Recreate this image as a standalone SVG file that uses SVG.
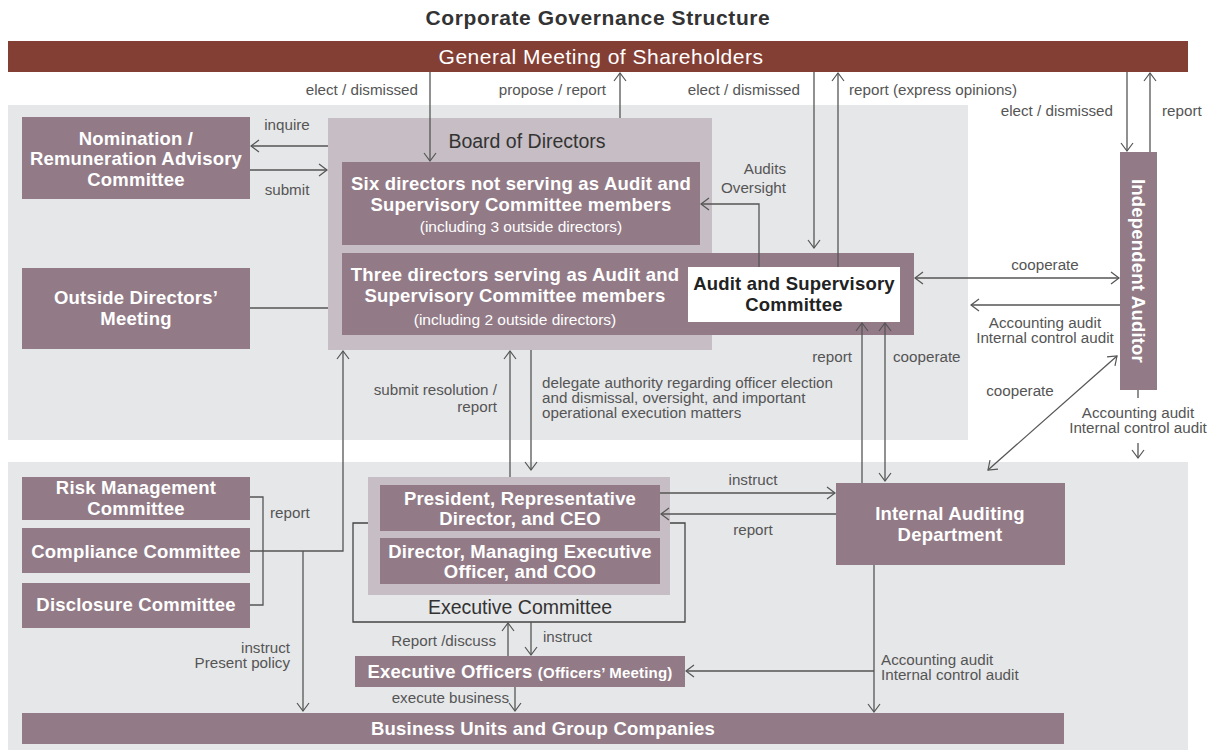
<svg xmlns="http://www.w3.org/2000/svg" width="1213" height="753" viewBox="0 0 1213 753">
<defs>
<marker id="ah" markerUnits="userSpaceOnUse" markerWidth="12" markerHeight="14" viewBox="0 0 12 14" refX="10" refY="7" orient="auto-start-reverse">
<path d="M2,1 L10,7 L2,13" fill="none" stroke="#555" stroke-width="1.2"/>
</marker>
</defs>
<style>
text{font-family:"Liberation Sans",Arial,sans-serif}
.box{fill:#927B87}
.lt{fill:#C6BEC4}
.panel{fill:#E6E7E9}
.bt{fill:#fff;font-size:18.5px;font-weight:bold;letter-spacing:0.2px;text-anchor:middle}
.sm{fill:#fff;font-size:15.5px;text-anchor:middle}
.lb{fill:#555;font-size:15.2px}
.r{text-anchor:end}
.m{text-anchor:middle}
.ln{fill:none;stroke:#555;stroke-width:1.3}
.a{marker-end:url(#ah)}
.d{marker-start:url(#ah);marker-end:url(#ah)}
</style>
<rect width="1213" height="753" fill="#fff"/>
<text x="598" y="25" font-size="21" fill="#333" text-anchor="middle" font-weight="bold" letter-spacing="0.6">Corporate Governance Structure</text>
<g id="panels">
<rect class="panel" x="8" y="105" width="960" height="335"/>
<rect class="panel" x="8" y="462" width="1180" height="288"/>
</g>
<g id="shareholders">
<rect x="8" y="41" width="1180" height="31" fill="#843F35"/>
<text x="601" y="64" font-size="21" fill="#fff" text-anchor="middle" letter-spacing="0.5">General Meeting of Shareholders</text>
</g>
<g id="nomination">
<rect class="box" x="22" y="117" width="228" height="82"/>
<text class="bt" x="136" y="145">Nomination /</text>
<text class="bt" x="136" y="165">Remuneration Advisory</text>
<text class="bt" x="136" y="186">Committee</text>
</g>
<g id="outside">
<rect class="box" x="22" y="268" width="228" height="81"/>
<text class="bt" x="136" y="304">Outside Directors’</text>
<text class="bt" x="136" y="325">Meeting</text>
</g>
<g id="board">
<rect class="lt" x="328" y="118" width="384" height="232"/>
<text x="527" y="148" font-size="19.5" fill="#333" text-anchor="middle">Board of Directors</text>
</g>
<g id="six">
<rect class="box" x="342" y="162" width="358" height="83"/>
<text class="bt" x="521" y="190">Six directors not serving as Audit and</text>
<text class="bt" x="521" y="211">Supervisory Committee members</text>
<text class="sm" x="521" y="232">(including 3 outside directors)</text>
</g>
<g id="three">
<rect class="box" x="342" y="253" width="572" height="82"/>
<text class="bt" x="515" y="281">Three directors serving as Audit and</text>
<text class="bt" x="515" y="302">Supervisory Committee members</text>
<text class="sm" x="515" y="325">(including 2 outside directors)</text>
</g>
<g id="asc">
<rect x="688" y="267" width="212" height="55" fill="#fff"/>
<text class="bt" x="794" y="290" style="fill:#222">Audit and Supervisory</text>
<text class="bt" x="794" y="311" style="fill:#222">Committee</text>
</g>
<g id="auditor">
<rect class="box" x="1120" y="152" width="37" height="238"/>
<text class="bt" transform="translate(1131.5,271) rotate(90)">Independent Auditor</text>
</g>
<g id="risk">
<rect class="box" x="22" y="477" width="228" height="43"/>
<text class="bt" x="136" y="494">Risk Management</text>
<text class="bt" x="136" y="515">Committee</text>
</g>
<g id="compliance">
<rect class="box" x="22" y="528" width="228" height="45"/>
<text class="bt" x="136" y="558">Compliance Committee</text>
</g>
<g id="disclosure">
<rect class="box" x="22" y="583" width="228" height="45"/>
<text class="bt" x="136" y="611">Disclosure Committee</text>
</g>
<g id="execcommittee">
<rect class="lt" x="368" y="477" width="302" height="118"/>
<path d="M368,523 H353 V622 H685 V523 H670" fill="none" stroke="#444" stroke-width="1.3"/>
<text x="520" y="614" font-size="19.5" fill="#333" text-anchor="middle">Executive Committee</text>
</g>
<g id="president">
<rect class="box" x="380" y="485" width="280" height="46"/>
<text class="bt" x="520" y="505">President, Representative</text>
<text class="bt" x="520" y="525">Director, and CEO</text>
</g>
<g id="coo">
<rect class="box" x="380" y="538" width="280" height="46"/>
<text class="bt" x="520" y="558">Director, Managing Executive</text>
<text class="bt" x="520" y="578">Officer, and COO</text>
</g>
<g id="iad">
<rect class="box" x="836" y="483" width="229" height="82"/>
<text class="bt" x="950" y="520">Internal Auditing</text>
<text class="bt" x="950" y="541">Department</text>
</g>
<g id="officers">
<rect class="box" x="355" y="656" width="330" height="31"/>
<text class="bt" x="520" y="678">Executive Officers <tspan font-size="15">(Officers’ Meeting)</tspan></text>
</g>
<g id="business">
<rect class="box" x="22" y="713" width="1042" height="31"/>
<text class="bt" x="543" y="735">Business Units and Group Companies</text>
</g>
<g id="connectors">
<path class="ln a" d="M328,146 H251"/>
<path class="ln a" d="M250,170 H327"/>
<path class="ln" d="M250,308 H328"/>
<path class="ln a" d="M430,72 V161"/>
<path class="ln a" d="M620,118 V73"/>
<path class="ln a" d="M814,72 V248"/>
<path class="ln a" d="M838,267 V73"/>
<path class="ln a" d="M759,267 V204 H701"/>
<path class="ln a" d="M1127,72 V151"/>
<path class="ln a" d="M1150,152 V73"/>
<path class="ln d" d="M915,278 H1119"/>
<path class="ln a" d="M1120,305 H971"/>
<path class="ln d" d="M1117,356 L988,470"/>
<path class="ln" d="M1138,390 V398"/>
<path class="ln a" d="M1138,443 V458"/>
<path class="ln a" d="M862,483 V323"/>
<path class="ln d" d="M885,323 V481"/>
<path class="ln a" d="M660,493 H835"/>
<path class="ln a" d="M836,514 H661"/>
<path class="ln" d="M250,497 H263 V605 H250"/>
<path class="ln a" d="M250,551 H343 V351"/>
<path class="ln a" d="M303,551 V711"/>
<path class="ln a" d="M510,477 V351"/>
<path class="ln a" d="M531,350 V470"/>
<path class="ln a" d="M508,656 V623"/>
<path class="ln a" d="M531,622 V655"/>
<path class="ln a" d="M515,687 V711"/>
<path class="ln a" d="M874,565 V712"/>
<path class="ln a" d="M874,671 H686"/>
</g>
<g id="labels">
<text class="lb m" x="287" y="130">inquire</text>
<text class="lb m" x="287" y="195">submit</text>
<text class="lb r" x="418" y="95">elect / dismissed</text>
<text class="lb r" x="606" y="95">propose / report</text>
<text class="lb r" x="800" y="95">elect / dismissed</text>
<text class="lb" x="849" y="95">report (express opinions)</text>
<text class="lb r" x="786" y="174">Audits</text>
<text class="lb r" x="786" y="193">Oversight</text>
<text class="lb r" x="1113" y="116">elect / dismissed</text>
<text class="lb" x="1162" y="116">report</text>
<text class="lb m" x="1045" y="270">cooperate</text>
<text class="lb m" x="1045" y="328">Accounting audit</text>
<text class="lb m" x="1045" y="343">Internal control audit</text>
<text class="lb m" x="1020" y="396">cooperate</text>
<text class="lb m" x="1138" y="418">Accounting audit</text>
<text class="lb m" x="1138" y="433">Internal control audit</text>
<text class="lb r" x="852" y="362">report</text>
<text class="lb" x="893" y="362">cooperate</text>
<text class="lb m" x="753" y="485">instruct</text>
<text class="lb m" x="753" y="535">report</text>
<text class="lb" x="270" y="518">report</text>
<text class="lb r" x="290" y="653">instruct</text>
<text class="lb r" x="290" y="668">Present policy</text>
<text class="lb r" x="497" y="395">submit resolution /</text>
<text class="lb r" x="497" y="412">report</text>
<text class="lb" x="542" y="388">delegate authority regarding officer election</text>
<text class="lb" x="542" y="403">and dismissal, oversight, and important</text>
<text class="lb" x="542" y="418">operational execution matters</text>
<text class="lb r" x="496" y="646">Report /discuss</text>
<text class="lb" x="543" y="642">instruct</text>
<text class="lb r" x="509" y="703">execute business</text>
<text class="lb" x="881" y="665">Accounting audit</text>
<text class="lb" x="881" y="680">Internal control audit</text>
</g>
</svg>
